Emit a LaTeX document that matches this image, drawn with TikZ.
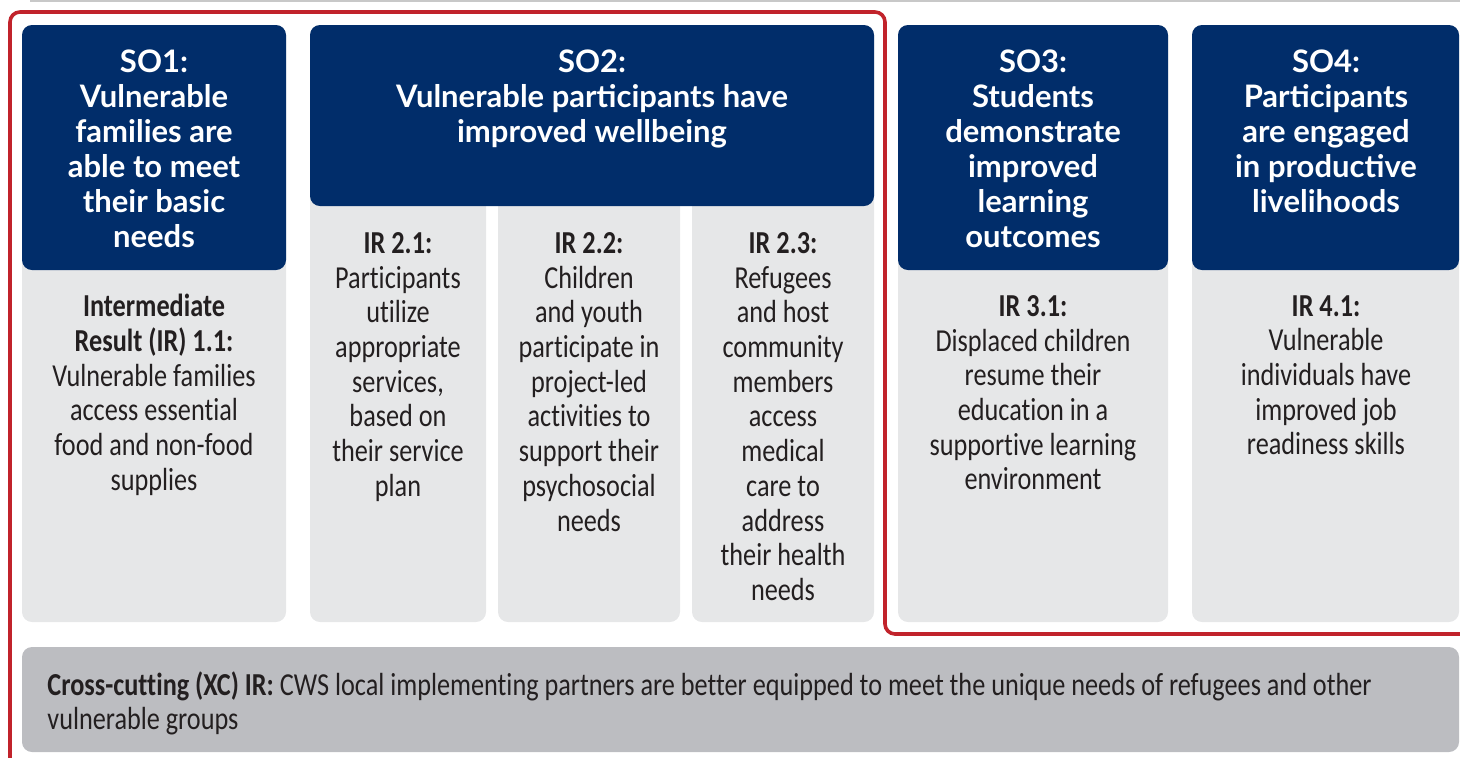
\documentclass[tikz,border=0pt]{standalone}
\usepackage{fontspec}
\setmainfont{Carlito}[FakeStretch=0.82,Ligatures=NoCommon]
\newfontfamily\headfont{Lato}
\definecolor{soNavy}{HTML}{012D6A}
\definecolor{soGrey}{HTML}{E6E7E8}
\definecolor{xcGrey}{HTML}{BCBDC1}
\definecolor{soRed}{HTML}{C1232B}
\definecolor{soInk}{HTML}{231F20}
\definecolor{soRule}{HTML}{C8C8C8}
\begin{document}
\begin{tikzpicture}[x=0.5pt,y=-0.5pt,
    soHead/.style={fill=soNavy,rounded corners=5pt},
    soBody/.style={fill=soGrey,rounded corners=5pt},
    xcBar/.style={fill=xcGrey,rounded corners=5pt},
    soTitle/.style={anchor=north,inner sep=0pt,align=center,text=white,
        font=\headfont\bfseries\fontsize{15.5}{17.5}\selectfont},
    irText/.style={anchor=north,inner sep=0pt,align=center,text=soInk,
        font=\fontsize{16}{17.35}\selectfont},
    xcText/.style={anchor=north west,inner sep=0pt,align=left,text=soInk,
        font=\fontsize{16}{17}\selectfont},
]
\useasboundingbox (0,0) rectangle (1460,757);
\draw[soRule, line width=1pt] (30,1) -- (1460,1);
% SO1 column
\path[soBody] (22,25) rectangle (286,622);
\path[soHead] (22,25) rectangle (286,270);
% SO2 column, split into three IRs
\path[soBody] (310,25) rectangle (486,622);
\path[soBody] (498,25) rectangle (680,622);
\path[soBody] (692,25) rectangle (874,622);
\path[soHead] (310,25) rectangle (874,206);
% SO3 and SO4
\path[soBody] (898,25) rectangle (1168,622);
\path[soHead] (898,25) rectangle (1168,270);
\path[soBody] (1192,25) rectangle (1459,622);
\path[soHead] (1192,25) rectangle (1459,270);
% cross-cutting bar
\path[xcBar] (22,647) rectangle (1459,752);
% red frame
\draw[soRed, line width=1.8pt, rounded corners=5pt] (10,760) -- (10,12) -- (885,12) -- (885,634) -- (1462,634);
% headings
\node[soTitle] (so1Title) at (154,49) {SO1:\\Vulnerable\\families are\\able to meet\\their basic\\needs};
\node[soTitle] (so2Title) at (592,49) {SO2:\\Vulnerable participants have\\improved wellbeing};
\node[soTitle] (so3Title) at (1033,49) {SO3:\\Students\\demonstrate\\improved\\learning\\outcomes};
\node[soTitle] (so4Title) at (1326,49) {SO4:\\Participants\\are engaged\\in productive\\livelihoods};
% intermediate results
\node[irText] (ir11) at (154,294) {\textbf{Intermediate}\\\textbf{Result (IR) 1.1:}\\Vulnerable families\\access essential\\food and non-food\\supplies};
\node[irText] (ir21) at (398,232) {\textbf{IR 2.1:}\\Participants\\utilize\\appropriate\\services,\\based on\\their service\\plan};
\node[irText] (ir22) at (589,232) {\textbf{IR 2.2:}\\Children\\and youth\\participate in\\project-led\\activities to\\support their\\psychosocial\\needs};
\node[irText] (ir23) at (783,232) {\textbf{IR 2.3:}\\Refugees\\and host\\community\\members\\access\\medical\\care to\\address\\their health\\needs};
\node[irText] (ir31) at (1033,295) {\textbf{IR 3.1:}\\Displaced children\\resume their\\education in a\\supportive learning\\environment};
\node[irText] (ir41) at (1326,295) {\textbf{IR 4.1:}\\Vulnerable\\individuals have\\improved job\\readiness skills};
\node[xcText] (xcIR) at (47,671) {\textbf{Cross-cutting (XC) IR:} CWS local implementing partners are better equipped to meet the unique needs of refugees and other\\vulnerable groups};
\end{tikzpicture}
\end{document}
